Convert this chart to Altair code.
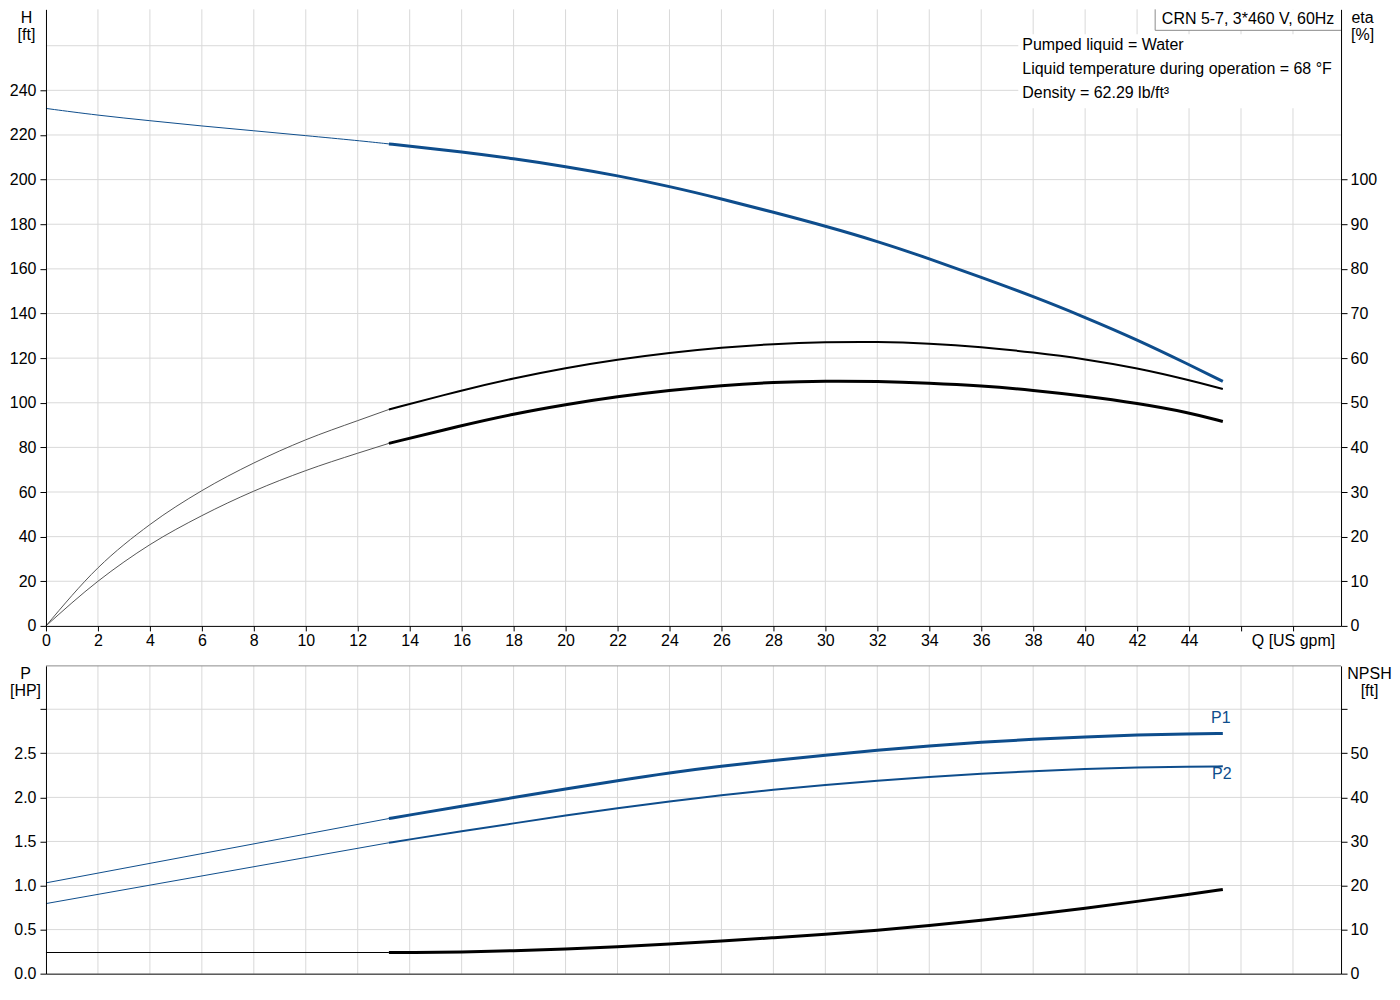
import altair as alt
import pandas as pd

FONT = "Liberation Sans"
BLUE = "#0e4d8c"
GRID = "#d9d9d9"
INK = "#000000"
FRAME = "#8c8c8c"

W = 1296
TOP_H = 617
BOT_H = 308
Q_MAX = 49.85
H_MAX = 276.3
ETA_MAX = H_MAX / 2
P_MAX = 3.492
NPSH_MAX = P_MAX * 20

# ---------------- texts ----------------
title_text = "CRN 5-7, 3*460 V, 60Hz"
info_lines = [
    "Pumped liquid = Water",
    "Liquid temperature during operation = 68 °F",
    "Density = 62.29 lb/ft³",
]
curve_labels = ["P1", "P2"]

# ---------------- ticks / grid ----------------
q_ticks = list(range(0, 51, 2))
q_grid = list(range(2, 49, 2))
h_ticks = list(range(0, 241, 20))
h_grid = list(range(20, 261, 20))
eta_ticks = list(range(0, 101, 10))
p_ticks = [0.0, 0.5, 1.0, 1.5, 2.0, 2.5, 3.0]
p_grid = [0.5, 1.0, 1.5, 2.0, 2.5, 3.0]
npsh_ticks = [0, 10, 20, 30, 40, 50, 60]

# ---------------- curve data ----------------
q_thin = [0, 2, 4, 6, 8, 10, 12, 13.2]
h_thin = [231.9, 228.8, 226.4, 224.0, 221.9, 219.7, 217.5, 216.0]
q_h = [13.2, 14, 16, 18, 20, 22, 24, 26, 28, 30, 32, 34, 36, 38, 40, 42, 44, 45.3]
h_thick = [216.0, 215.0, 212.5, 209.4, 205.9, 201.8, 197.0, 191.4, 185.4, 179.2,
           172.4, 164.6, 156.2, 147.7, 138.3, 128.3, 117.1, 109.6]

q_eta = [13.2, 16, 18, 20, 22, 24, 26, 28, 30, 32, 34, 36, 38, 40, 42, 44, 45.3]
eta1_thin = [0, 13.0, 22.7, 30.3, 36.5, 41.7, 46.0, 48.5]
eta1_thick = [48.5, 52.8, 55.5, 57.8, 59.7, 61.2, 62.4, 63.2, 63.6, 63.7, 63.3,
              62.5, 61.3, 59.8, 57.8, 55.1, 53.1]
eta2_thin = [0, 10.0, 18.2, 24.7, 30.2, 34.8, 38.7, 40.9]
eta2_thick = [40.9, 44.9, 47.5, 49.6, 51.4, 52.8, 53.9, 54.6, 54.9, 54.8, 54.4,
              53.8, 52.8, 51.5, 49.9, 47.8, 45.8]

q_p_thin = [0, 13.2]
p1_thin = [1.03, 1.76]
p2_thin = [0.795, 1.485]
npsh_thin = [4.8, 4.8]
q_p = [13.2, 14, 16, 18, 20, 22, 24, 26, 28, 30, 32, 34, 36, 38, 40, 42, 44, 45.3]
p1_thick = [1.76, 1.80, 1.90, 1.998, 2.095, 2.19, 2.28, 2.355, 2.42, 2.48, 2.535,
            2.585, 2.628, 2.66, 2.687, 2.708, 2.72, 2.725]
p2_thick = [1.485, 1.523, 1.615, 1.705, 1.795, 1.878, 1.955, 2.025, 2.088, 2.142,
            2.19, 2.232, 2.268, 2.298, 2.322, 2.34, 2.35, 2.352]
npsh_thick = [4.8, 4.8, 4.9, 5.2, 5.6, 6.1, 6.7, 7.4, 8.15, 8.9, 9.85, 10.9, 12.1,
              13.4, 14.8, 16.4, 18.0, 19.1]


def frame(q, v):
    return pd.DataFrame({"Q": q, "V": v})


xs = alt.Scale(domain=[0, Q_MAX], nice=False, zero=False)
hs = alt.Scale(domain=[0, H_MAX], nice=False, zero=False)
es = alt.Scale(domain=[0, ETA_MAX], nice=False, zero=False)
ps = alt.Scale(domain=[0, P_MAX], nice=False, zero=False)
ns = alt.Scale(domain=[0, NPSH_MAX], nice=False, zero=False)

lab = dict(labelFont=FONT, labelFontSize=16, labelColor=INK, labelOverlap=False,
           labelFlush=False, domainColor=INK, tickColor=INK, grid=False, zindex=2)
ttl = dict(titleAngle=0, titleAlign="center", titleBaseline="top", titleFont=FONT,
           titleFontSize=16, titleFontWeight="normal", titleColor=INK,
           titleLineHeight=17, titleY=0)

x_top_axis = alt.Axis(values=q_ticks, tickSize=5, labelPadding=2, title=None,
                      labelExpr="datum.value <= 44 ? datum.label : (datum.value == 48 ? 'Q [US gpm]' : '')",
                      **lab)
x_bot_axis = alt.Axis(labels=False, ticks=False, domain=True, domainColor=INK,
                      grid=False, title=None, zindex=2)
h_axis = alt.Axis(values=h_ticks, tickSize=6, labelPadding=4, title=["H", "[ft]"],
                  titleX=-20, **lab, **ttl)
eta_axis = alt.Axis(orient="right", values=eta_ticks, tickSize=6, labelPadding=3,
                    title=["eta", "[%]"], titleX=21, **lab, **ttl)
p_axis = alt.Axis(values=p_ticks, format=".1f", tickSize=6, labelPadding=4,
                  labelExpr="datum.value <= 2.5 ? datum.label : ''",
                  title=["P", "[HP]"], titleX=-21, **lab, **ttl)
npsh_axis = alt.Axis(orient="right", values=npsh_ticks, tickSize=6, labelPadding=3,
                     labelExpr="datum.value <= 50 ? datum.label : ''",
                     title=["NPSH", "[ft]"], titleX=28, **lab, **ttl)


def line(q, v, yscale, color, width, x_axis, y_axis, interp="basis"):
    return alt.Chart(frame(q, v)).mark_line(
        color=color, strokeWidth=width, interpolate=interp, strokeCap="butt"
    ).encode(
        x=alt.X("Q:Q", scale=xs, axis=x_axis),
        y=alt.Y("V:Q", scale=yscale, axis=y_axis),
    )


def vgrid(x_axis):
    return alt.Chart(pd.DataFrame({"Q": q_grid})).mark_rule(color=GRID, strokeWidth=1).encode(
        x=alt.X("Q:Q", scale=xs, axis=x_axis))


def hgrid(vals, yscale, y_axis):
    return alt.Chart(pd.DataFrame({"V": vals})).mark_rule(color=GRID, strokeWidth=1).encode(
        y=alt.Y("V:Q", scale=yscale, axis=y_axis))


one = pd.DataFrame({"k": [0]})

# ---------------- top panel ----------------
top_left = alt.layer(
    vgrid(x_top_axis),
    hgrid(h_grid, hs, h_axis),
    line(q_thin, h_thin, hs, BLUE, 1, x_top_axis, h_axis),
    line(q_h, h_thick, hs, BLUE, 3, x_top_axis, h_axis),
)
top_right = alt.layer(
    line(q_thin, eta1_thin, es, "#555555", 1, x_top_axis, eta_axis, "monotone"),
    line(q_eta, eta1_thick, es, INK, 2, x_top_axis, eta_axis),
    line(q_thin, eta2_thin, es, "#555555", 1, x_top_axis, eta_axis, "monotone"),
    line(q_eta, eta2_thick, es, INK, 3, x_top_axis, eta_axis),
)

info_box = alt.Chart(one).mark_rect(fill="white").encode(
    x=alt.value(973), x2=alt.value(W), y=alt.value(25), y2=alt.value(99))
title_box = alt.Chart(one).mark_rect(fill="white").encode(
    x=alt.value(1110), x2=alt.value(W), y=alt.value(0), y2=alt.value(21))
title_left = alt.Chart(one).mark_rule(color=FRAME, strokeWidth=1).encode(
    x=alt.value(1110), y=alt.value(0), y2=alt.value(21))
title_bottom = alt.Chart(one).mark_rule(color=FRAME, strokeWidth=1).encode(
    x=alt.value(1110), x2=alt.value(W), y=alt.value(21))
title_txt = alt.Chart(one).mark_text(font=FONT, fontSize=16, color=INK, align="center",
                                     baseline="middle").encode(
    x=alt.value(1203), y=alt.value(10), text=alt.value(title_text))
info_txt = [
    alt.Chart(one).mark_text(font=FONT, fontSize=16, color=INK, align="left",
                             baseline="middle").encode(
        x=alt.value(977), y=alt.value(36 + 24 * i), text=alt.value(t))
    for i, t in enumerate(info_lines)
]
annotations = alt.layer(info_box, title_box, title_left, title_bottom, title_txt, *info_txt)

top = alt.layer(top_left, top_right, annotations).resolve_scale(y="independent").properties(
    width=W, height=TOP_H)

# ---------------- bottom panel ----------------
border = alt.Chart(one).mark_rule(color=FRAME, strokeWidth=1).encode(y=alt.value(0))
lab1 = alt.Chart(pd.DataFrame({"Q": [q_p[-1]], "V": [p1_thick[-1]], "t": [curve_labels[0]]})).mark_text(
    font=FONT, fontSize=16, color=BLUE, dx=-2, dy=-15).encode(
    x=alt.X("Q:Q", scale=xs, axis=x_bot_axis), y=alt.Y("V:Q", scale=ps, axis=p_axis), text="t:N")
lab2 = alt.Chart(pd.DataFrame({"Q": [q_p[-1]], "V": [p2_thick[-1]], "t": [curve_labels[1]]})).mark_text(
    font=FONT, fontSize=16, color=BLUE, dx=-1, dy=8).encode(
    x=alt.X("Q:Q", scale=xs, axis=x_bot_axis), y=alt.Y("V:Q", scale=ps, axis=p_axis), text="t:N")

bot_left = alt.layer(
    vgrid(x_bot_axis),
    hgrid(p_grid, ps, p_axis),
    border,
    line(q_p_thin, p1_thin, ps, BLUE, 1, x_bot_axis, p_axis, "linear"),
    line(q_p, p1_thick, ps, BLUE, 3, x_bot_axis, p_axis),
    line(q_p_thin, p2_thin, ps, BLUE, 1, x_bot_axis, p_axis, "linear"),
    line(q_p, p2_thick, ps, BLUE, 2, x_bot_axis, p_axis),
    lab1,
    lab2,
)
bot_right = alt.layer(
    line(q_p_thin, npsh_thin, ns, INK, 1, x_bot_axis, npsh_axis, "linear"),
    line(q_p, npsh_thick, ns, INK, 3, x_bot_axis, npsh_axis),
)
bottom = alt.layer(bot_left, bot_right).resolve_scale(y="independent").properties(
    width=W, height=BOT_H)

chart = alt.vconcat(top, bottom, spacing=40, bounds="flush").properties(
    padding=0, background="white").configure_view(stroke="transparent")

chart.save("out.html", embed_options={"renderer": "svg", "actions": False})
